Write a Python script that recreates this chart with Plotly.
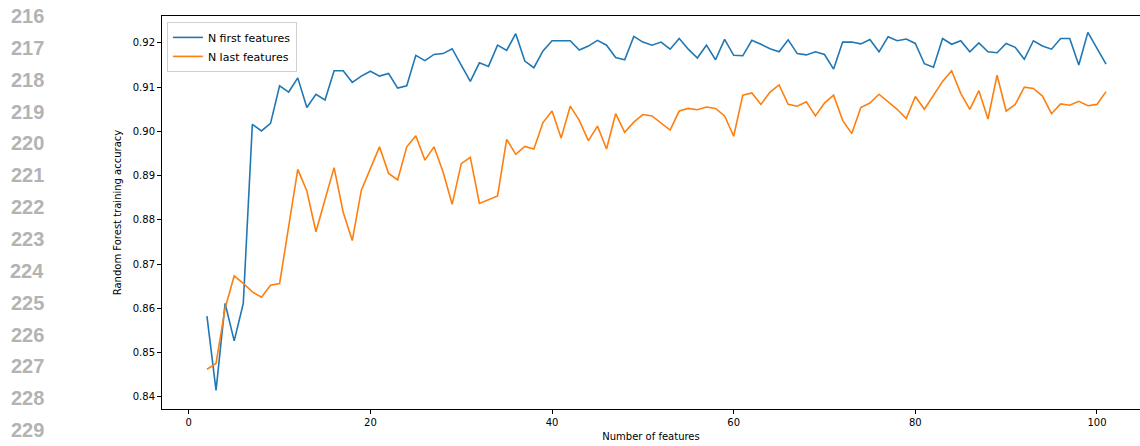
import plotly.graph_objects as go

n_features = list(range(2, 102))

first_acc = [
    0.8582, 0.8414, 0.8611, 0.8526, 0.8611, 0.9016, 0.9001, 0.9018, 0.9103, 0.9089,
    0.9121, 0.9054, 0.9084, 0.9071, 0.9137, 0.9137, 0.9111, 0.9125, 0.9136, 0.9125,
    0.9131, 0.9098, 0.9103, 0.9172, 0.9160, 0.9174, 0.9176, 0.9187, 0.9150, 0.9113,
    0.9155, 0.9147, 0.9195, 0.9183, 0.9221, 0.9159, 0.9144, 0.9182, 0.9205, 0.9205,
    0.9205, 0.9184, 0.9193, 0.9206, 0.9195, 0.9167, 0.9162, 0.9215, 0.9202, 0.9195,
    0.9202, 0.9186, 0.9210, 0.9186, 0.9166, 0.9195, 0.9162, 0.9208, 0.9172, 0.9171,
    0.9206, 0.9197, 0.9187, 0.9180, 0.9207, 0.9176, 0.9173, 0.9180, 0.9174, 0.9141,
    0.9202, 0.9202, 0.9198, 0.9208, 0.9180, 0.9214, 0.9205, 0.9209, 0.9199, 0.9153,
    0.9145, 0.9210, 0.9197, 0.9205, 0.9180, 0.9200, 0.9180, 0.9178, 0.9199, 0.9190,
    0.9163, 0.9205, 0.9193, 0.9186, 0.9210, 0.9210, 0.9150, 0.9224, 0.9189, 0.9152,
]

last_acc = [
    0.8462, 0.8475, 0.8600, 0.8673, 0.8656, 0.8637, 0.8625, 0.8652, 0.8656, 0.8784,
    0.8914, 0.8865, 0.8773, 0.8846, 0.8918, 0.8817, 0.8753, 0.8867, 0.8916, 0.8965,
    0.8905, 0.8890, 0.8965, 0.8990, 0.8935, 0.8965, 0.8908, 0.8835, 0.8927, 0.8941,
    0.8837, 0.8846, 0.8854, 0.8982, 0.8948, 0.8966, 0.8960, 0.9020, 0.9046, 0.8985,
    0.9057, 0.9025, 0.8979, 0.9012, 0.8960, 0.9040, 0.8998, 0.9021, 0.9038, 0.9035,
    0.9018, 0.9003, 0.9046, 0.9052, 0.9049, 0.9055, 0.9052, 0.9035, 0.8989, 0.9082,
    0.9087, 0.9061, 0.9089, 0.9105, 0.9061, 0.9057, 0.9067, 0.9035, 0.9064, 0.9082,
    0.9025, 0.8995, 0.9054, 0.9064, 0.9084, 0.9068, 0.9050, 0.9029, 0.9079, 0.9050,
    0.9080, 0.9113, 0.9137, 0.9086, 0.9050, 0.9092, 0.9028, 0.9127, 0.9046, 0.9061,
    0.9100, 0.9097, 0.9080, 0.9040, 0.9062, 0.9059, 0.9068, 0.9058, 0.9061, 0.9090,
]

x_ticks = [0, 20, 40, 60, 80, 100]
y_ticks = [0.84, 0.85, 0.86, 0.87, 0.88, 0.89, 0.90, 0.91, 0.92]
y_tick_labels = ["0.84", "0.85", "0.86", "0.87", "0.88", "0.89", "0.90", "0.91", "0.92"]
line_numbers = [str(v) for v in range(216, 230)]

W, H = 1140, 446
ML, MR, MT, MB = 162, 0, 16, 37

fig = go.Figure()
fig.add_trace(go.Scatter(x=n_features, y=first_acc, mode="lines", name="N first features",
                         line=dict(color="#1f77b4", width=1.6)))
fig.add_trace(go.Scatter(x=n_features, y=last_acc, mode="lines", name="N last features",
                         line=dict(color="#ff7f0e", width=1.6)))

font = "DejaVu Sans"
fig.update_layout(
    width=W, height=H,
    margin=dict(l=ML, r=MR, t=MT, b=MB),
    paper_bgcolor="white", plot_bgcolor="white",
    font=dict(family=font, size=10, color="black"),
    showlegend=True,
    legend=dict(x=0.005, y=0.985, xanchor="left", yanchor="top",
                bgcolor="rgba(255,255,255,0.8)", bordercolor="#d0d0d0", borderwidth=1,
                font=dict(family=font, size=11), itemwidth=30, tracegroupgap=0),
    xaxis=dict(range=[-2.95, 104.74], tickvals=x_ticks, ticks="outside", ticklen=4,
               tickcolor="black", showline=True, linecolor="black", linewidth=1,
               mirror=True, showgrid=False, zeroline=False,
               title=dict(text="Number of features", standoff=5, font=dict(size=10))),
    yaxis=dict(range=[0.8372, 0.9261], tickvals=y_ticks, ticktext=y_tick_labels,
               ticks="outside", ticklen=4, tickcolor="black", showline=True,
               linecolor="black", linewidth=1, mirror=False, showgrid=False,
               zeroline=False,
               title=dict(text="Random Forest training accuracy", standoff=9,
                          font=dict(size=10))),
)

plot_w = W - ML - MR
plot_h = H - MT - MB
for i, lab in enumerate(line_numbers):
    py = 16 + 31.85 * i
    fig.add_annotation(text="<b>" + lab + "</b>", xref="paper", yref="paper",
                       x=(46 - ML) / plot_w, y=(H - MB - py) / plot_h,
                       xanchor="right", yanchor="middle", showarrow=False,
                       font=dict(family="Liberation Sans", size=20, color="#b3b3b3"))

fig.write_html("out.html", config={"displayModeBar": False},
               post_script="document.body.style.margin='0';document.body.style.padding='0';")
